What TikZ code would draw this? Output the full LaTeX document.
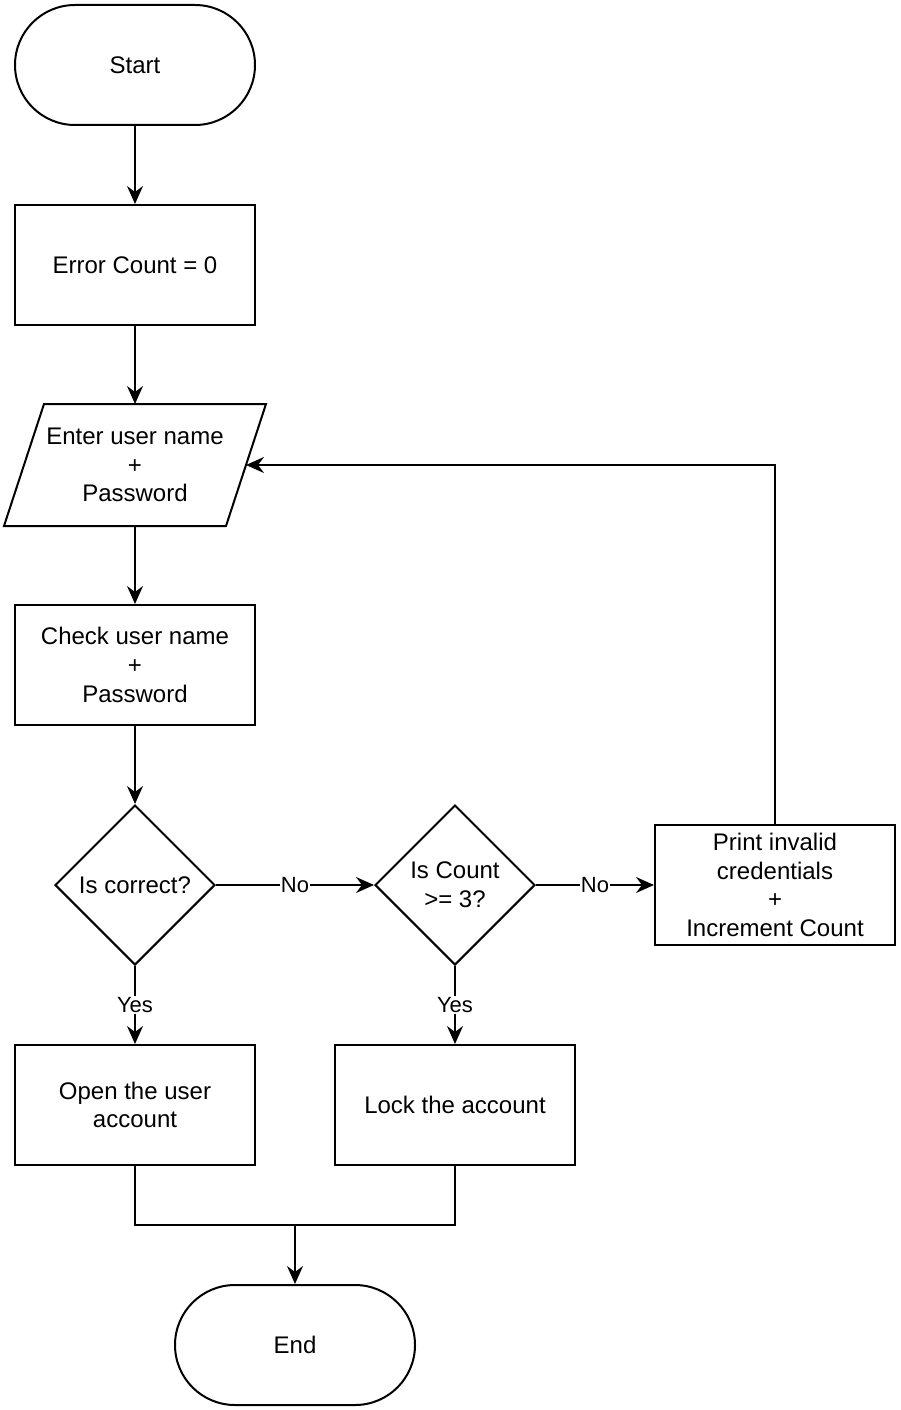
\documentclass[tikz,border=0pt]{standalone}
\usepackage{fontspec}
\setmainfont{Liberation Sans}
\usetikzlibrary{shapes.geometric,arrows.meta}
\begin{document}
\begin{tikzpicture}[x=1bp,y=-1bp, line width=2bp,
 every node/.style={font=\fontsize{24bp}{28.8bp}\selectfont, align=center, inner sep=0pt},
 proc/.style={draw, rectangle, minimum width=240bp, minimum height=120bp},
 term/.style={draw, rectangle, rounded corners=60bp, minimum width=240bp, minimum height=120bp},
 dec/.style={draw, diamond, minimum width=160bp, minimum height=160bp},
 io/.style={rectangle, minimum width=220bp, minimum height=120bp},
 lab/.style={fill=white, font=\fontsize{22bp}{26bp}\selectfont, inner sep=1bp},
 arr/.style={-{Stealth[length=18bp,width=16bp,inset=6bp]}}]
\useasboundingbox (0,0) rectangle (900,1410);
\node[term] (start) at (135,65) {Start};
\node[proc] (err) at (135,265) {Error Count = 0};
\node[io] (par) at (135,465) {Enter user name\\+\\Password};
\draw ([xshift=20bp]par.north west) -- ([xshift=20bp]par.north east) -- ([xshift=-20bp]par.south east) -- ([xshift=-20bp]par.south west) -- cycle;
\node[proc] (chk) at (135,665) {Check user name\\+\\Password};
\node[dec] (d1) at (135,885) {Is correct?};
\node[dec] (d2) at (455,885) {Is Count\\>= 3?};
\node[proc] (pr) at (775,885) {Print invalid\\credentials\\+\\Increment Count};
\node[proc] (open) at (135,1105) {Open the user\\account};
\node[proc] (lock) at (455,1105) {Lock the account};
\node[term] (end) at (295,1345) {End};
\coordinate (m) at (295,1225);
\draw[arr] (start) -- (err);
\draw[arr] (err) -- (par);
\draw[arr] (par) -- (chk);
\draw[arr] (chk) -- (d1);
\draw[arr] (d1) -- node[lab]{No} (d2);
\draw[arr] (d2) -- node[lab]{No} (pr);
\draw[arr] (d1) -- node[lab]{Yes} (open);
\draw[arr] (d2) -- node[lab]{Yes} (lock);
\draw[arr] (pr.north) |- (par.east);
\draw (open.south) |- (m);
\draw (lock.south) |- (m);
\draw[arr] (m) -- (end);
\end{tikzpicture}
\end{document}
